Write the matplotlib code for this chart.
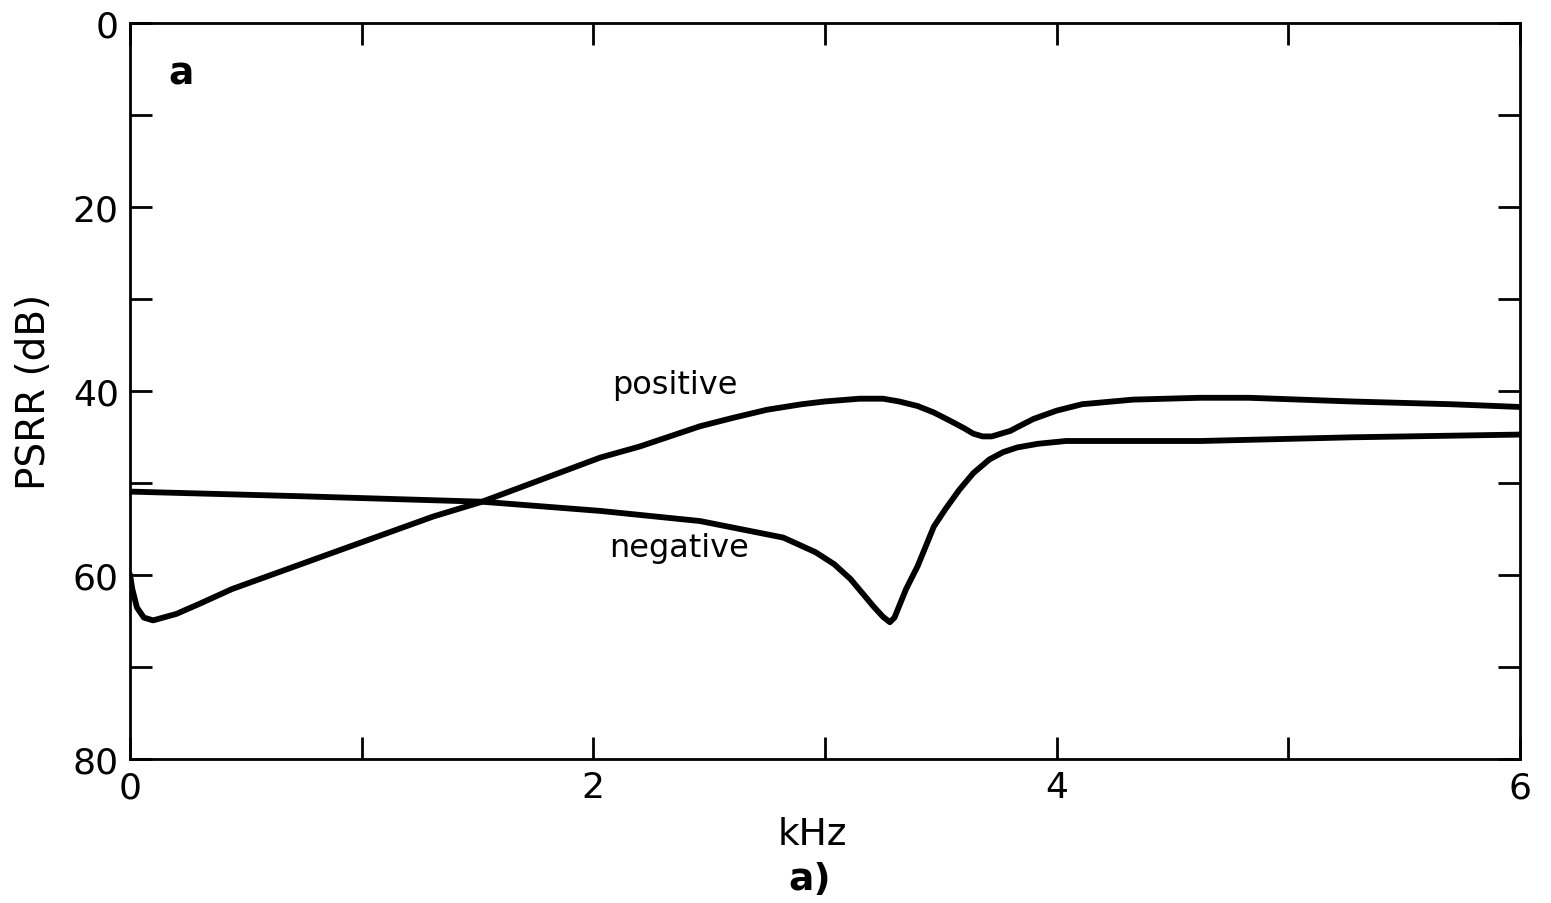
import matplotlib
matplotlib.use("Agg")
import matplotlib.pyplot as plt
from matplotlib.ticker import MultipleLocator

# positive-supply PSRR (kHz, dB)
pos_khz = [0.0, 0.01, 0.03, 0.06, 0.10, 0.20, 0.30, 0.44, 0.88, 1.31, 1.52, 2.03,
           2.2, 2.46, 2.6, 2.75, 2.9, 3.0, 3.15, 3.25, 3.32, 3.40, 3.47, 3.54,
           3.6, 3.64, 3.68, 3.72, 3.76, 3.8, 3.83, 3.9, 4.0, 4.11, 4.33, 4.62,
           4.83, 5.27, 5.70, 6.0]
pos_db = [59.9, 61.5, 63.5, 64.6, 64.9, 64.2, 63.1, 61.5, 57.5, 53.6, 52.0, 47.2,
          46.0, 43.8, 42.9, 42.0, 41.4, 41.1, 40.8, 40.8, 41.1, 41.6, 42.3, 43.2,
          44.0, 44.6, 44.9, 44.9, 44.6, 44.3, 43.9, 43.0, 42.1, 41.4, 40.9, 40.7,
          40.7, 41.1, 41.4, 41.7]

# negative-supply PSRR
neg_khz = [0.0, 0.73, 1.52, 2.03, 2.46, 2.82, 2.96, 3.04, 3.11, 3.16, 3.21, 3.25,
           3.28, 3.30, 3.35, 3.40, 3.47, 3.52, 3.58, 3.64, 3.71, 3.77, 3.83, 3.92,
           4.04, 4.40, 4.62, 5.27, 6.0]
neg_db = [50.9, 51.4, 52.0, 53.0, 54.1, 55.9, 57.5, 58.8, 60.4, 61.9, 63.4, 64.5,
          65.1, 64.6, 61.5, 59.0, 54.7, 52.8, 50.7, 48.9, 47.4, 46.6, 46.1, 45.7,
          45.4, 45.4, 45.4, 45.0, 44.7]

plt.rcParams["font.family"] = "DejaVu Sans"
fig = plt.figure(figsize=(15.51, 9.04), dpi=100)
ax = fig.add_axes([0.0838, 0.159, 0.8962, 0.814])

ax.plot(pos_khz, pos_db, color="black", lw=4.2, solid_joinstyle="round",
        solid_capstyle="round")
ax.plot(neg_khz, neg_db, color="black", lw=4.2, solid_joinstyle="round",
        solid_capstyle="round")

ax.set_xlim(0, 6)
ax.set_ylim(80, 0)
ax.xaxis.set_major_locator(MultipleLocator(2))
ax.xaxis.set_minor_locator(MultipleLocator(1))
ax.yaxis.set_major_locator(MultipleLocator(20))
ax.yaxis.set_minor_locator(MultipleLocator(10))
ax.tick_params(which="both", direction="in", length=16, width=2,
               top=True, right=True, labelsize=26, pad=8)
for s in ax.spines.values():
    s.set_linewidth(2)

ax.set_ylabel("PSRR (dB)", fontsize=28, labelpad=14)
ax.text(2.35, 39.3, "positive", fontsize=23, ha="center", va="center")
ax.text(2.37, 57.0, "negative", fontsize=23, ha="center", va="center")
ax.text(0.22, 5.5, "a", fontsize=27, fontweight="bold", ha="center", va="center")

fig.text(0.524, 0.076, "kHz", fontsize=27, ha="center", va="center")
fig.text(0.522, 0.027, "a)", fontsize=27, fontweight="bold", ha="center", va="center")

fig.savefig("out.png", dpi=100)
